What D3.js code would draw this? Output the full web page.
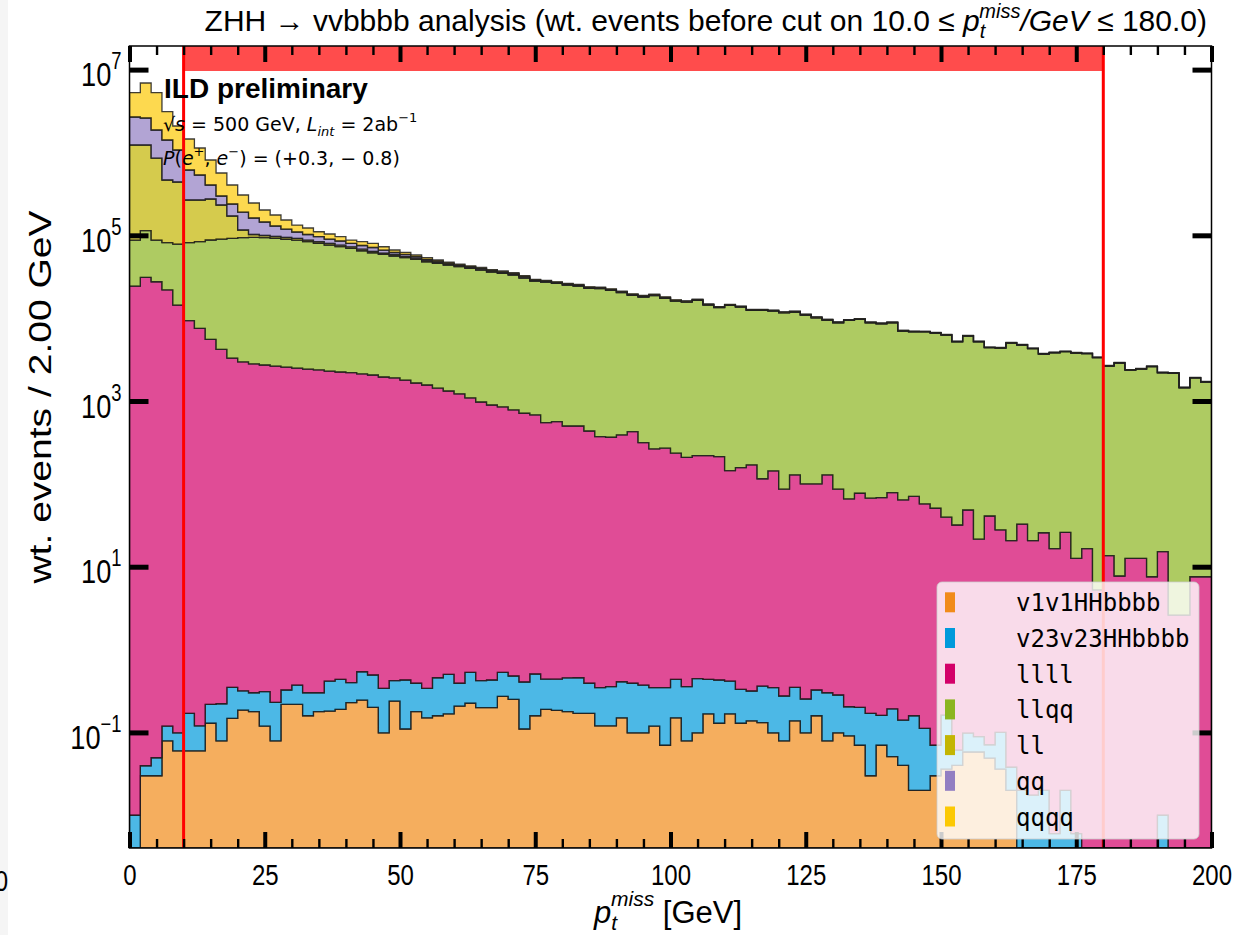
<!DOCTYPE html>
<html>
<head>
<meta charset="utf-8">
<script src="https://cdn.jsdelivr.net/npm/d3@7"></script>
<style>
  body { margin: 0; background: #fff; }
  svg { display: block; font-family: "Liberation Sans", Arial, sans-serif; }
  text { fill: #000; }
</style>
</head>
<body>
<svg id="chart" width="1250" height="935"></svg>
<script>
// ---- data: weighted events per 2 GeV bin of missing pT ----
const binEdges = d3.range(0, 201, 2);
const seriesNames = ["v1v1HHbbbb", "v23v23HHbbbb", "llll", "llqq", "ll", "qq", "qqqq"];

const v1v1HHbbbb = [
  0, 0.030, 0.030, 0.079, 0.060, 0.060, 0.060, 0.129, 0.079, 0.148,
  0.186, 0.178, 0.119, 0.079, 0.218, 0.218, 0.159, 0.178, 0.181, 0.190,
  0.229, 0.246, 0.201, 0.099, 0.239, 0.110, 0.178, 0.150, 0.159, 0.167,
  0.208, 0.225, 0.199, 0.199, 0.273, 0.251, 0.110, 0.159, 0.190, 0.185,
  0.178, 0.170, 0.170, 0.120, 0.120, 0.150, 0.099, 0.099, 0.119, 0.070,
  0.150, 0.079, 0.099, 0.167, 0.129, 0.167, 0.129, 0.138, 0.131, 0.099,
  0.079, 0.138, 0.099, 0.159, 0.079, 0.099, 0.091, 0.070, 0.030, 0.070,
  0.051, 0.040, 0.020, 0.020, 0.030, 0.036, 0.040, 0.058, 0.058, 0.049,
  0.036, 0.020, 0, 0, 0, 0, 0, 0, 0, 0,
  0, 0, 0, 0, 0, 0, 0, 0, 0, 0
];
const v23v23HHbbbb = [
  0.0100, 0.0096, 0.0195, 0.040, 0.039, 0.110, 0.060, 0.089, 0.143, 0.202,
  0.132, 0.123, 0.191, 0.152, 0.107, 0.155, 0.142, 0.123, 0.236, 0.247,
  0.169, 0.294, 0.292, 0.241, 0.182, 0.319, 0.214, 0.190, 0.298, 0.336,
  0.184, 0.306, 0.222, 0.230, 0.258, 0.229, 0.296, 0.348, 0.251, 0.254,
  0.278, 0.287, 0.222, 0.227, 0.237, 0.259, 0.293, 0.274, 0.228, 0.277,
  0.287, 0.278, 0.346, 0.270, 0.300, 0.250, 0.202, 0.178, 0.232, 0.248,
  0.196, 0.212, 0.154, 0.166, 0.222, 0.184, 0.113, 0.131, 0.140, 0.091,
  0.141, 0.101, 0.139, 0.092, 0.040, 0.126, 0.021, 0.040, 0.031, 0.022,
  0.064, 0.018, 0.020, 0.0175, 0.020, 0.006, 0.020, 0.006, 0, 0,
  0, 0, 0, 0, 0, 0.010, 0, 0, 0, 0
];
const llll = [
  24400, 31100, 27500, 21900, 14400, 9320, 7540, 5550, 4200, 3300,
  2960, 2800, 2720, 2640, 2570, 2500, 2430, 2370, 2300, 2240,
  2200, 2120, 2060, 1950, 1900, 1790, 1650, 1560, 1430, 1320,
  1220, 1090, 973, 895, 847, 780, 711, 678, 547, 563,
  499, 499, 434, 371, 365, 389, 426, 314, 264, 269,
  234, 209, 219, 219, 213, 144, 157, 169, 115, 143,
  85.9, 128, 99.5, 99.5, 128, 85.9, 65.6, 76.9, 67.0, 68.1,
  78.2, 63.8, 70.3, 57.1, 50.7, 39.5, 31.8, 48.3, 21.4, 40.9,
  27.7, 20.6, 32.7, 20.6, 25.7, 16.5, 26.0, 12.6, 16.5, 5.24,
  13.6, 7.73, 12.6, 12.6, 7.57, 15.2, 2.61, 2.61, 7.57, 7.57
];
const llqq = [
  63300, 82600, 60200, 59500, 64100, 72100, 76200, 82200, 86000, 88700,
  90600, 91800, 90900, 89400, 86900, 85200, 81300, 77600, 74100, 70600,
  67400, 63000, 59500, 57000, 54400, 51900, 49700, 46400, 44500, 42500,
  40600, 38900, 37100, 35200, 34000, 32400, 29800, 27400, 26760, 25780,
  24630, 23940, 22500, 22300, 21330, 19900, 18440, 17690, 18400, 17090,
  15880, 15460, 16200, 14190, 13160, 14150, 13470, 12260, 12320, 12060,
  11540, 11730, 10810, 10020, 9370, 8720, 9350, 9610, 8740, 8500,
  8730, 6940, 6780, 6780, 6570, 6220, 5160, 6040, 5170, 4360,
  4330, 4990, 4710, 4260, 3670, 3810, 3910, 3780, 3710, 3330,
  2630, 2870, 2350, 2420, 2590, 2180, 2160, 1444, 1890, 1690
];
const ll = [
  1142000, 1116000, 769000, 383600, 361500, 185300, 183000, 186500, 142000, 79000,
  22300, 7700, 5900, 4700, 4600, 4300, 4000, 3700, 3400, 3160,
  3000, 2850, 2500, 2150, 2040, 1760, 1620, 1500, 1320, 1240,
  1040, 980, 980, 880, 660, 720, 700, 420, 400, 385,
  365, 350, 330, 320, 305, 285, 265, 255, 260, 245,
  180, 165, 170, 140, 125, 130, 120, 105, 100, 95,
  88, 88, 80, 72, 66, 60, 63, 64, 58, 55,
  57, 45, 43, 34, 33, 31, 26, 30, 26, 22,
  22, 25, 24, 21, 18, 19, 20, 19, 19, 17,
  13, 14, 12, 12, 13, 11, 11, 7, 9, 8
];
const qq = [
  1450000, 1376000, 1009000, 948000, 631000, 347300, 267800, 130400, 66000, 67700,
  75100, 59500, 45200, 32800, 25000, 17600, 14600, 12500, 10400, 9340,
  7400, 7350, 7170, 5310, 3660, 3200, 2250, 1800, 1460, 1020,
  960, 920, 920, 820, 790, 660, 700, 440, 420, 400,
  380, 360, 340, 330, 315, 295, 275, 265, 270, 255,
  200, 182, 188, 155, 138, 143, 132, 116, 110, 105,
  97, 97, 88, 79, 73, 66, 69, 70, 64, 61,
  63, 50, 47, 40, 39, 37, 31, 36, 31, 26,
  26, 30, 28, 25, 22, 23, 23, 23, 22, 20,
  16, 17, 14, 15, 16, 13, 13, 9, 11, 10
];
const qqqq = [
  2610000, 4284000, 3424000, 1691000, 1015000, 839000, 597500, 405900, 266800, 165900,
  115500, 83600, 57300, 46300, 33900, 23500, 20200, 14300, 13500, 10900,
  7700, 8400, 8730, 6340, 4460, 3690, 2670, 2400, 1650, 1290,
  990, 940, 980, 850, 820, 790, 750, 400, 380, 365,
  350, 335, 315, 305, 290, 270, 255, 245, 250, 235,
  160, 146, 150, 124, 110, 114, 106, 93, 88, 84,
  78, 78, 70, 63, 58, 53, 55, 56, 51, 49,
  50, 40, 38, 27, 26, 25, 21, 24, 21, 17,
  17, 20, 19, 17, 15, 15, 16, 15, 15, 13,
  11, 11, 9, 10, 10, 9, 9, 6, 8, 7
];
const seriesValues = [v1v1HHbbbb, v23v23HHbbbb, llll, llqq, ll, qq, qqqq];
const baseColors = ["#F18B1A", "#009ADB", "#D30069", "#8BB520", "#C3B502", "#927EC2", "#FCC904"];

const cutLow = 10.0, cutHigh = 180.0;
const xMajorTicks = d3.range(0, 201, 25);
const xMinorTicks = d3.range(0, 201, 5).filter(v => v % 25 !== 0);
const yTickExponents = [-1, 1, 3, 5, 7];
const xTickLabels = xMajorTicks.map(String);

// ---- layout ----
const svg = d3.select("#chart");
const plot = { left: 129.5, right: 1211.5, top: 46, bottom: 848 };
const x = d3.scaleLinear().domain([0, 200]).range([plot.left, plot.right]);
const yMin = Math.pow(10, -2.395), yMax = Math.pow(10, 7.285);
const y = d3.scaleLog().domain([yMin, yMax]).range([plot.bottom, plot.top]);
const ys = v => y(Math.max(v, yMin));

const SANS = "'Liberation Sans', Arial, sans-serif";
const MATH = "'DejaVu Sans', sans-serif";
const MONO = "'DejaVu Sans Mono', monospace";

// faint strip at the far left edge and a clipped neighbouring label
svg.append("rect").attr("x", 0).attr("y", 0).attr("width", 8).attr("height", 935).attr("fill", "#f5f5f5");
svg.append("text").attr("x", 8 / 0.8).attr("y", 891).attr("text-anchor", "end")
  .style("font-size", "30px").attr("transform", "scale(0.8,1)").text("0");

svg.append("defs").append("clipPath").attr("id", "plotClip")
  .append("rect").attr("x", plot.left).attr("y", plot.top)
  .attr("width", plot.right - plot.left).attr("height", plot.bottom - plot.top);

// ---- stacked histogram ----
const rows = binEdges.map((edge, i) => {
  const k = Math.min(i, binEdges.length - 2);
  const row = { x0: edge };
  seriesNames.forEach((name, s) => { row[name] = seriesValues[s][k]; });
  return row;
});
const stacked = d3.stack().keys(seriesNames)(rows);
const area = d3.area()
  .curve(d3.curveStepAfter)
  .x(d => x(d.data.x0))
  .y0(d => ys(d[0]))
  .y1(d => ys(d[1]));

const histG = svg.append("g").attr("clip-path", "url(#plotClip)");
histG.selectAll("path.layer")
  .data(stacked)
  .join("path")
  .attr("class", "layer")
  .attr("d", area)
  .attr("fill", (d, i) => baseColors[i])
  .attr("fill-opacity", 0.7)
  .attr("stroke", "#1e1e1e")
  .attr("stroke-opacity", 0.85)
  .attr("stroke-width", 1.3)
  .attr("stroke-linejoin", "miter");

// ---- cut window ----
const cutG = svg.append("g");
cutG.append("rect")
  .attr("x", x(cutLow)).attr("y", plot.top)
  .attr("width", x(cutHigh) - x(cutLow)).attr("height", 25)
  .attr("fill", "#ff0000").attr("fill-opacity", 0.7);
[cutLow, cutHigh].forEach(c => {
  cutG.append("line")
    .attr("x1", x(c)).attr("x2", x(c))
    .attr("y1", plot.top).attr("y2", plot.bottom)
    .attr("stroke", "#ff0000").attr("stroke-width", 3);
});

// ---- axes ----
const axG = svg.append("g");
function styleTicks(g, width) {
  g.select(".domain").remove();
  g.selectAll(".tick line").attr("stroke", "#000").attr("stroke-width", width);
}
axG.append("g").attr("transform", `translate(0,${plot.bottom})`)
  .call(d3.axisBottom(x).tickValues(xMinorTicks).tickSize(-9).tickSizeOuter(0).tickFormat(""))
  .call(g => styleTicks(g, 2.4));
axG.append("g").attr("transform", `translate(0,${plot.top})`)
  .call(d3.axisTop(x).tickValues(xMinorTicks).tickSize(-9).tickSizeOuter(0).tickFormat(""))
  .call(g => styleTicks(g, 2.4));
axG.append("g").attr("transform", `translate(0,${plot.top})`)
  .call(d3.axisTop(x).tickValues(xMajorTicks).tickSize(-16).tickSizeOuter(0).tickFormat(""))
  .call(g => styleTicks(g, 4));
const xAxis = axG.append("g").attr("transform", `translate(0,${plot.bottom})`)
  .call(d3.axisBottom(x).tickValues(xMajorTicks).tickSize(-16).tickSizeOuter(0)
        .tickFormat((d, i) => xTickLabels[i]).tickPadding(0))
  .call(g => styleTicks(g, 4));
xAxis.attr("font-family", null).attr("font-size", null);
xAxis.selectAll(".tick text")
  .attr("y", 37).attr("dy", null)
  .style("font-family", SANS).style("font-size", "30px")
  .attr("fill", "#000")
  .attr("transform", "scale(0.8,1)");

const yTickValues = yTickExponents.map(e => Math.pow(10, e));
const yAxisL = axG.append("g").attr("transform", `translate(${plot.left},0)`)
  .call(d3.axisLeft(y).tickValues(yTickValues).tickSize(-19).tickSizeOuter(0).tickFormat(""))
  .call(g => styleTicks(g, 5));
axG.append("g").attr("transform", `translate(${plot.right},0)`)
  .call(d3.axisRight(y).tickValues(yTickValues).tickSize(-19).tickSizeOuter(0).tickFormat(""))
  .call(g => styleTicks(g, 5));
yAxisL.selectAll(".tick").each(function (d, i) {
  const t = d3.select(this).append("text")
    .attr("text-anchor", "end")
    .style("font-family", SANS).style("font-size", "34px")
    .attr("transform", "scale(0.8,1)")
    .attr("x", -8 / 0.8).attr("y", 16);
  t.append("tspan").text("10");
  t.append("tspan").attr("dy", -17).style("font-size", "23px")
    .text(String(yTickExponents[i]).replace("-", "\u2212"));
});

// frame
axG.append("rect")
  .attr("x", plot.left).attr("y", plot.top)
  .attr("width", plot.right - plot.left).attr("height", plot.bottom - plot.top)
  .attr("fill", "none").attr("stroke", "#000").attr("stroke-width", 1.5);

// ---- labels ----
const xl = svg.append("text").attr("x", 668).attr("y", 923).attr("text-anchor", "middle")
  .style("font-family", SANS).style("font-size", "31px");
xl.append("tspan").style("font-style", "italic").text("p");
xl.append("tspan").style("font-style", "italic").style("font-size", "21px").attr("dy", 7).text("t");
xl.append("tspan").style("font-style", "italic").style("font-size", "21px").attr("dx", -6).attr("dy", -24).text("miss");
xl.append("tspan").attr("dy", 17).text(" [GeV]");

svg.append("text")
  .attr("transform", "translate(51,397) rotate(-90) scale(1.22,1)")
  .attr("text-anchor", "middle")
  .style("font-family", SANS).style("font-size", "32px")
  .text("wt. events / 2.00 GeV");

const title = svg.append("text").attr("x", 1207).attr("y", 31).attr("text-anchor", "end")
  .style("font-family", SANS).style("font-size", "30px");
title.append("tspan").text("ZHH \u2192 vvbbbb analysis (wt. events before cut on 10.0 \u2264 ");
title.append("tspan").style("font-style", "italic").text("p");
title.append("tspan").style("font-style", "italic").style("font-size", "20px").attr("dy", 7).text("t");
title.append("tspan").style("font-style", "italic").style("font-size", "20px").attr("dx", -6).attr("dy", -20).text("miss");
title.append("tspan").style("font-style", "italic").attr("dy", 13).text("/GeV");
title.append("tspan").text(" \u2264 180.0)");

// ---- annotation ----
svg.append("text").attr("x", 164).attr("y", 98)
  .style("font-family", SANS).style("font-size", "28px").style("font-weight", "bold")
  .text("ILD preliminary");
const a1 = svg.append("text").attr("x", 163).attr("y", 131)
  .style("font-family", MATH).style("font-size", "19px");
a1.append("tspan").text("\u221A");
a1.append("tspan").style("font-style", "italic").text("s");
a1.append("tspan").text(" = 500 GeV, ");
a1.append("tspan").style("font-style", "italic").text("L");
a1.append("tspan").style("font-style", "italic").style("font-size", "13px").attr("dy", 5).text("int");
a1.append("tspan").attr("dy", -5).text(" = 2ab");
a1.append("tspan").style("font-size", "13px").attr("dy", -9).text("\u22121");
const a2 = svg.append("text").attr("x", 163).attr("y", 165)
  .style("font-family", MATH).style("font-size", "19px");
a2.append("tspan").style("font-style", "italic").text("P");
a2.append("tspan").text("(");
a2.append("tspan").style("font-style", "italic").text("e");
a2.append("tspan").style("font-size", "13px").attr("dy", -9).text("+");
a2.append("tspan").attr("dy", 9).text(", ");
a2.append("tspan").style("font-style", "italic").text("e");
a2.append("tspan").style("font-size", "13px").attr("dy", -9).text("\u2212");
a2.append("tspan").attr("dy", 9).text(") = (+0.3, \u2212 0.8)");

// ---- legend ----
const lg = svg.append("g");
lg.append("rect").attr("x", 937).attr("y", 582).attr("width", 262).attr("height", 257)
  .attr("rx", 5).attr("fill", "#fff").attr("fill-opacity", 0.8)
  .attr("stroke", "#cccccc").attr("stroke-opacity", 0.8);
seriesNames.forEach((name, i) => {
  const yc = 602.3 + i * 35.7;
  lg.append("rect").attr("x", 945).attr("y", yc - 10).attr("width", 10).attr("height", 20)
    .attr("fill", baseColors[i]);
  lg.append("text").attr("x", 1016).attr("y", yc + 9)
    .style("font-family", MONO).style("font-size", "24px")
    .attr("fill", "#1a1a1a").text(name);
});
</script>
</body>
</html>
